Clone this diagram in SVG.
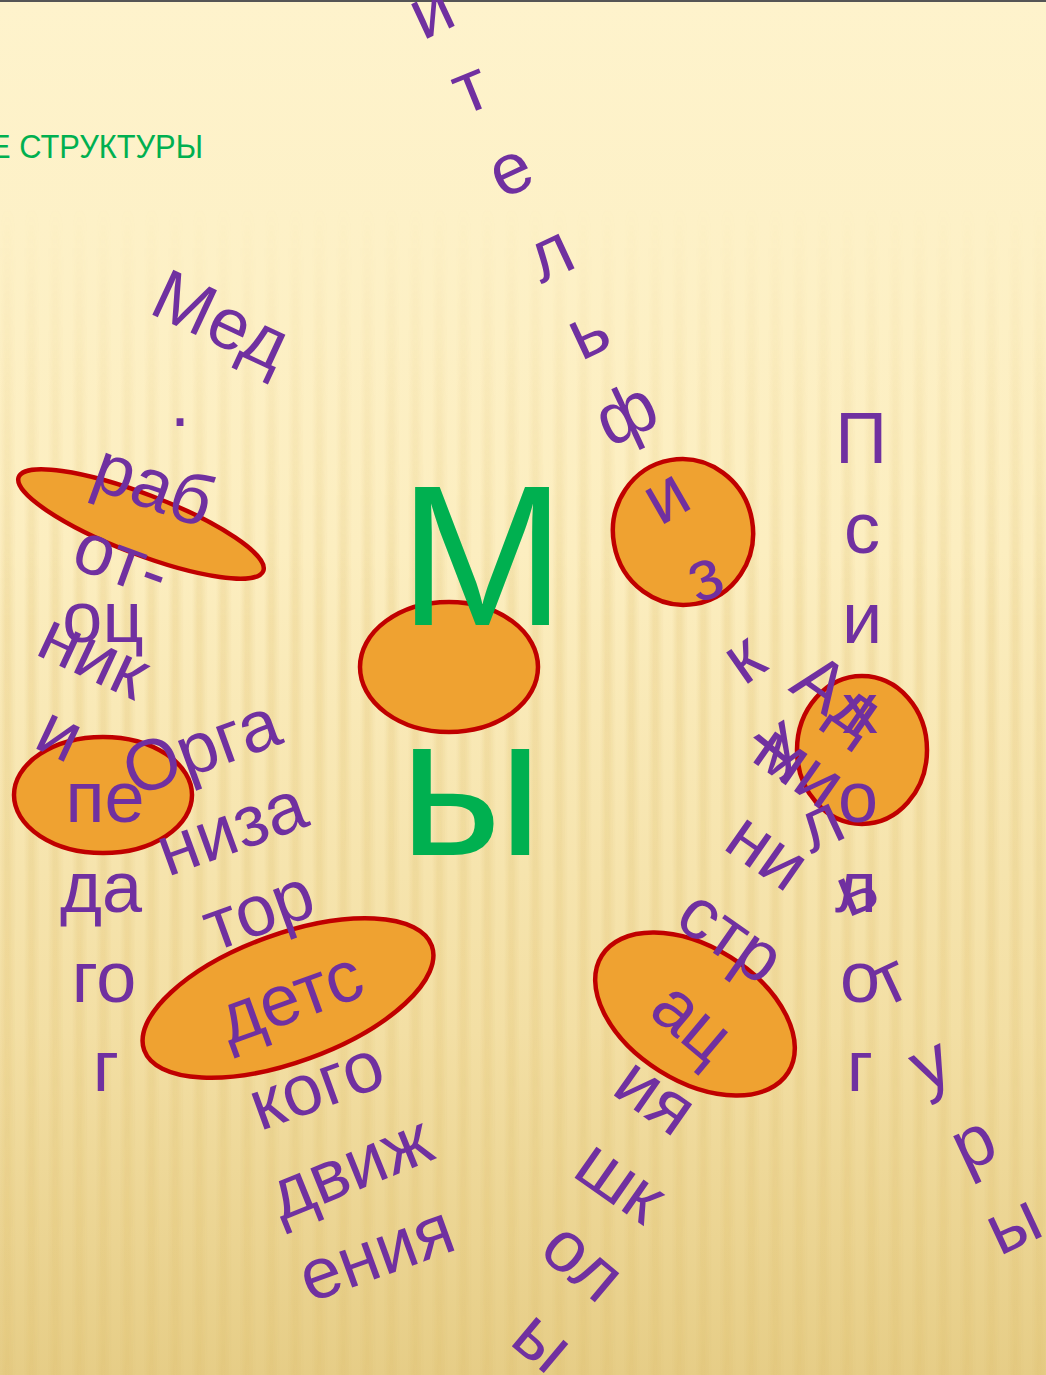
<svg xmlns="http://www.w3.org/2000/svg" width="1046" height="1375" viewBox="0 0 1046 1375">
<defs>
<linearGradient id="bg" x1="0" y1="0" x2="0" y2="1">
<stop offset="0" stop-color="#FEF3CC"/>
<stop offset="0.4" stop-color="#FCEEC0"/>
<stop offset="0.75" stop-color="#F3DFA4"/>
<stop offset="1" stop-color="#E6CD86"/>
</linearGradient>
<linearGradient id="fadeG" x1="0" y1="0" x2="0" y2="1">
<stop offset="0.15" stop-color="#fff" stop-opacity="0"/>
<stop offset="0.45" stop-color="#fff" stop-opacity="1"/>
<stop offset="1" stop-color="#fff" stop-opacity="0.7"/>
</linearGradient>
<mask id="fade"><rect width="1046" height="1375" fill="url(#fadeG)"/></mask>
<linearGradient id="stripeG" x1="0" y1="0" x2="1" y2="0">
<stop offset="0" stop-color="#D9B45A" stop-opacity="0"/>
<stop offset="0.35" stop-color="#D9B45A" stop-opacity="0.22"/>
<stop offset="0.55" stop-color="#D9B45A" stop-opacity="0.22"/>
<stop offset="1" stop-color="#D9B45A" stop-opacity="0"/>
</linearGradient>
<pattern id="stripes" width="24" height="20" patternUnits="userSpaceOnUse">
<rect x="0" y="0" width="16" height="20" fill="url(#stripeG)"/>
</pattern>
<style>
.p { font-family: "Liberation Sans", Arial, sans-serif; font-size: 72px; fill: #7030A0; text-anchor: middle; }
.g { font-family: "Liberation Sans", Arial, sans-serif; fill: #00B050; }
.e { fill: #EFA231; stroke: #C00000; stroke-width: 4.5; }
</style>
</defs>
<g id="background">
<rect width="1046" height="1375" fill="url(#bg)"/>
<rect width="1046" height="1375" fill="url(#stripes)" mask="url(#fade)"/>
<rect width="1046" height="2" fill="#555"/>
</g>
<g id="ellipses">
<ellipse id="e-med" class="e" cx="141" cy="524" rx="131" ry="30" transform="rotate(21 141 524)"/>
<ellipse id="e-ped" class="e" cx="103" cy="795" rx="89" ry="58"/>
<ellipse id="e-center" class="e" cx="449" cy="667" rx="89" ry="65"/>
<ellipse id="e-fiz" class="e" cx="683" cy="532" rx="70" ry="73" transform="rotate(-10 683 532)"/>
<ellipse id="e-psy" class="e" cx="862" cy="750" rx="65" ry="74"/>
<ellipse id="e-org" class="e" cx="288" cy="998" rx="153" ry="64" transform="rotate(-20 288 998)"/>
<ellipse id="e-adm" class="e" cx="695" cy="1014" rx="110" ry="67" transform="rotate(32 695 1014)"/>
</g>
<g id="title">
<text class="g" x="-10" y="158" font-size="34" textLength="213" lengthAdjust="spacingAndGlyphs">Е СТРУКТУРЫ</text>
</g>
<g id="my">
<text class="g" x="482" y="625" font-size="200" text-anchor="middle">М</text>
<text class="g" x="471" y="855" font-size="200" text-anchor="middle">ы</text>
</g>
<g id="uchitel">
<text class="p" transform="translate(433,15) rotate(-25)" y="19">и</text>
<text class="p" transform="translate(472,92) rotate(-22)" y="19">т</text>
<text class="p" transform="translate(512,174) rotate(-25)" y="19">е</text>
<text class="p" transform="translate(552,258) rotate(-25)" y="19">л</text>
<text class="p" transform="translate(590,336) rotate(-25)" y="19">ь</text>
<text class="p" transform="translate(628,418) rotate(-25)" y="19">ф</text>
<text class="p" transform="translate(668,500) rotate(-30)" y="19">и</text>
<text class="p" transform="translate(706,580) rotate(-20)" y="19">з</text>
<text class="p" transform="translate(746,662) rotate(-35)" y="19">к</text>
<text class="p" transform="translate(778,745) rotate(-30)" y="19">у</text>
<text class="p" transform="translate(822,828) rotate(-25)" y="19">л</text>
<text class="p" transform="translate(858,893) rotate(-22)" y="19">ь</text>
<text class="p" transform="translate(891,984) rotate(-25)" y="19">т</text>
<text class="p" transform="translate(932,1068) rotate(-25)" y="19">у</text>
<text class="p" transform="translate(975,1147) rotate(-25)" y="19">р</text>
<text class="p" transform="translate(1015,1228) rotate(-25)" y="19">ы</text>
</g>
<g id="psiholog">
<text class="p" x="861" y="463">П</text>
<text class="p" x="862" y="553">с</text>
<text class="p" x="862" y="643">и</text>
<text class="p" x="860" y="733">х</text>
<text class="p" x="858" y="822">о</text>
<text class="p" x="856" y="912">л</text>
<text class="p" x="860" y="1002">о</text>
<text class="p" x="860" y="1091">г</text>
</g>
<g id="socped">
<text class="p" x="103" y="642">оц</text>
<text class="p" x="105" y="822">пе</text>
<text class="p" x="101" y="912">да</text>
<text class="p" x="104" y="1002">го</text>
<text class="p" x="106" y="1091">г</text>
</g>
<g id="medrab">
<text class="p" transform="translate(219,325) rotate(25)" y="19">Мед</text>
<text class="p" x="180" y="426">.</text>
<text class="p" transform="translate(152,490) rotate(20)" y="19">раб</text>
<text class="p" transform="translate(120,565) rotate(20)" y="19">от-</text>
<text class="p" transform="translate(92,660) rotate(25)" y="19">ник</text>
<text class="p" transform="translate(58,738) rotate(25)" y="19">и</text>
</g>
<g id="organizator">
<text class="p" transform="translate(203,752) rotate(-20)" y="19">Орга</text>
<text class="p" transform="translate(233,833) rotate(-20)" y="19">низа</text>
<text class="p" transform="translate(260,915) rotate(-20)" y="19">тор</text>
<text class="p" transform="translate(292,1002) rotate(-20)" y="19">детс</text>
<text class="p" transform="translate(318,1090) rotate(-20)" y="19">кого</text>
<text class="p" transform="translate(352,1172) rotate(-22)" y="19">движ</text>
<text class="p" transform="translate(378,1258) rotate(-20)" y="19">ения</text>
</g>
<g id="administraciya">
<text class="p" transform="translate(835,700) rotate(35)" y="19">Ад</text>
<text class="p" transform="translate(797,770) rotate(35)" y="19">ми</text>
<text class="p" transform="translate(765,855) rotate(35)" y="19">ни</text>
<text class="p" transform="translate(728,940) rotate(35)" y="19">стр</text>
<text class="p" transform="translate(690,1025) rotate(40)" y="19">ац</text>
<text class="p" transform="translate(653,1100) rotate(35)" y="19">ия</text>
<text class="p" transform="translate(618,1185) rotate(35)" y="19">шк</text>
<text class="p" transform="translate(580,1265) rotate(40)" y="19">ол</text>
<text class="p" transform="translate(540,1345) rotate(40)" y="19">ы</text>
</g>
</svg>
